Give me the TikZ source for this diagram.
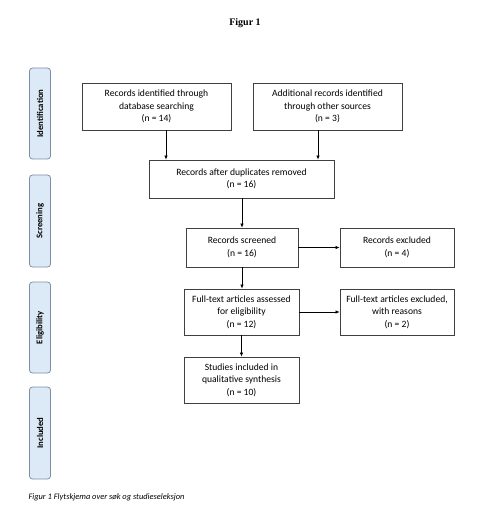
\documentclass[tikz,border=0pt]{standalone}
\usepackage{fontspec}
\setmainfont{Carlito}
\newfontfamily\titlefont{Liberation Serif}
\usetikzlibrary{arrows.meta,calc}
\definecolor{sidefill}{HTML}{DCE9F7}
\definecolor{sidedraw}{HTML}{7F8FA6}
\definecolor{boxdraw}{HTML}{404040}
\tikzset{
  box/.style={draw=boxdraw, line width=0.8pt, fill=white, align=center, inner sep=2pt,
    font=\fontsize{9.6}{12.5}\selectfont},
  side/.style={draw=sidedraw, line width=0.8pt, fill=sidefill, rounded corners=3pt,
    minimum height=21pt, rotate=90, font=\bfseries\fontsize{8.7}{10}\selectfont},
  arr/.style={-{Latex[length=4pt,width=3.5pt]}, line width=0.7pt, draw=black}
}
\begin{document}
\begin{tikzpicture}[x=1pt,y=-1pt]
\useasboundingbox (0,0) rectangle (490,529);
\fill[white] (0,0) rectangle (490,529);
\node[font=\titlefont\bfseries\fontsize{10}{12}\selectfont] (title) at (245,23) {Figur 1};

\node[side, minimum width=91pt] (s1) at (40,113.5) {Identification};
\node[side, minimum width=92pt] (s2) at (40,221) {Screening};
\node[side, minimum width=91pt] (s3) at (40,327.5) {Eligibility};
\node[side, minimum width=92pt] (s4) at (40,433) {Included};

\node[box, minimum width=149pt, minimum height=47pt] (b1) at (156.5,106.5)
  {Records identified through\\database searching\\(n = 14)};
\node[box, minimum width=149pt, minimum height=47pt] (b2) at (327.5,106.5)
  {Additional records identified\\through other sources\\(n = 3)};
\node[box, minimum width=185pt, minimum height=38pt] (b3) at (241.5,179)
  {Records after duplicates removed\\(n = 16)};
\node[box, minimum width=112pt, minimum height=39pt] (b4) at (242,247.5)
  {Records screened\\(n = 16)};
\node[box, minimum width=114pt, minimum height=39pt] (b5) at (397,247.5)
  {Records excluded\\(n = 4)};
\node[box, minimum width=115pt, minimum height=46pt] (b6) at (241.5,312)
  {Full-text articles assessed\\for eligibility\\(n = 12)};
\node[box, minimum width=114pt, minimum height=46pt] (b7) at (397,312)
  {Full-text articles excluded,\\with reasons\\(n = 2)};
\node[box, minimum width=115pt, minimum height=46pt] (b8) at (241.5,380)
  {Studies included in\\qualitative synthesis\\(n = 10)};

\coordinate (a1) at ($(b1.south)+(9.5,0)$);
\coordinate (a2) at ($(b2.south)+(-9.5,0)$);
\draw[arr] (a1) -- (a1 |- b3.north);
\draw[arr] (a2) -- (a2 |- b3.north);
\draw[arr] (b3.south -| b4.north) -- (b4.north);
\draw[arr] (b4.east) -- (b5.west);
\draw[arr] (b4.south) -- (b4.south |- b6.north);
\draw[arr] (b6.east) -- (b7.west);
\draw[arr] (b6.south) -- (b8.north);

\node[anchor=west, font=\itshape\fontsize{8.4}{10}\selectfont] (cap) at (25,497)
  {Figur 1 Flytskjema over søk og studieseleksjon};
\end{tikzpicture}
\end{document}
